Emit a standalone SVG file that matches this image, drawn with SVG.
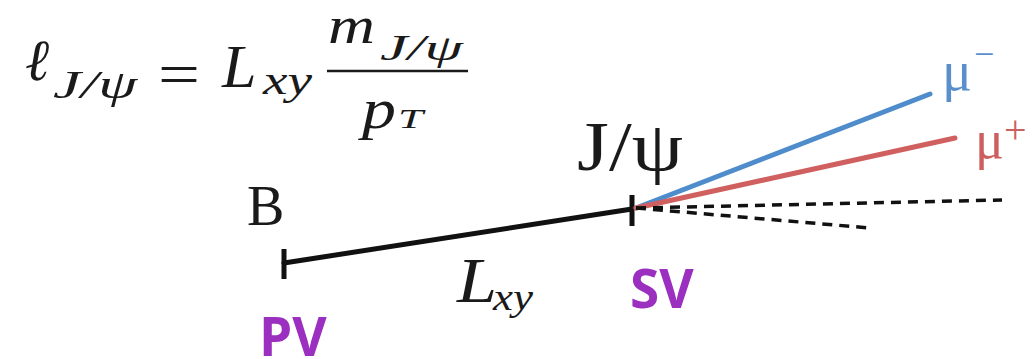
<svg xmlns="http://www.w3.org/2000/svg" width="1033" height="359" viewBox="0 0 1033 359">
<style>
.m{font-family:"Liberation Serif","Times New Roman",serif;font-style:italic;fill:#1a1a1a}
.r{font-family:"Liberation Serif","Times New Roman",serif;fill:#1a1a1a}
.v{font-family:"Open Sans","Noto Sans",sans-serif;font-weight:700;fill:#9a2fc0;font-size:53px}
.trk{fill:none;stroke-linecap:round}
.blk{stroke:#111;stroke-width:5}
.dash{stroke:#111;stroke-width:3.5;stroke-dasharray:10 7;fill:none}
</style>
<rect width="1033" height="359" fill="#fff"/>
<g id="formula">
<text class="m" x="25" y="80" font-size="58">ℓ</text>
<text class="m" x="53" y="98" font-size="40" textLength="84" lengthAdjust="spacingAndGlyphs">J/ψ</text>
<text class="r" x="158" y="94" font-size="60" textLength="42" lengthAdjust="spacingAndGlyphs">=</text>
<text class="m" x="222" y="87" font-size="62">L</text>
<text class="m" x="263" y="94" font-size="40" textLength="49" lengthAdjust="spacingAndGlyphs">xy</text>
<line x1="327" y1="71" x2="468" y2="71" stroke="#1a1a1a" stroke-width="2.5"/>
<text class="m" x="328" y="43" font-size="52" textLength="47" lengthAdjust="spacingAndGlyphs">m</text>
<text class="m" x="380" y="60" font-size="36" textLength="83" lengthAdjust="spacingAndGlyphs">J/ψ</text>
<text class="m" x="362" y="128" font-size="58" textLength="34" lengthAdjust="spacingAndGlyphs">p</text>
<text class="m" x="398" y="128" font-size="28" textLength="25" lengthAdjust="spacingAndGlyphs">T</text>
</g>
<g id="connectors">
<line class="trk blk" x1="284" y1="263" x2="632" y2="209"/>
<line class="blk" x1="284" y1="249" x2="284" y2="279"/>
<line class="blk" x1="632" y1="195" x2="632" y2="226"/>
<line class="trk" x1="636" y1="208" x2="930" y2="94" stroke="#4f8ccb" stroke-width="5"/>
<line class="trk" x1="636" y1="208" x2="955" y2="138" stroke="#d0605f" stroke-width="5"/>
<line class="dash" x1="636" y1="208" x2="1002" y2="200"/>
<line class="dash" x1="636" y1="208" x2="870" y2="228"/>
</g>
<g id="label-B"><text class="r" x="247" y="225" font-size="56">B</text></g>
<g id="label-Jpsi"><text class="r" x="577" y="170" font-size="70" textLength="106" lengthAdjust="spacingAndGlyphs">J/ψ</text></g>
<g id="label-Lxy">
<text class="m" x="457" y="302" font-size="64" textLength="40" lengthAdjust="spacingAndGlyphs">L</text>
<text class="m" x="493" y="310" font-size="38" textLength="40" lengthAdjust="spacingAndGlyphs">xy</text>
</g>
<g id="label-SV"><text class="v" x="630" y="308">SV</text></g>
<g id="label-PV"><text class="v" x="259" y="356">PV</text></g>
<g id="mu-minus">
<text class="r" x="942" y="90" font-size="56" fill="#5b8fcc" style="fill:#5b8fcc">μ</text>
<text class="r" x="974" y="66" font-size="36" style="fill:#5b8fcc">−</text>
</g>
<g id="mu-plus">
<text class="r" x="975" y="158" font-size="54" style="fill:#cc6060">μ</text>
<text class="r" x="1004" y="143" font-size="40" style="fill:#cc6060">+</text>
</g>
</svg>
